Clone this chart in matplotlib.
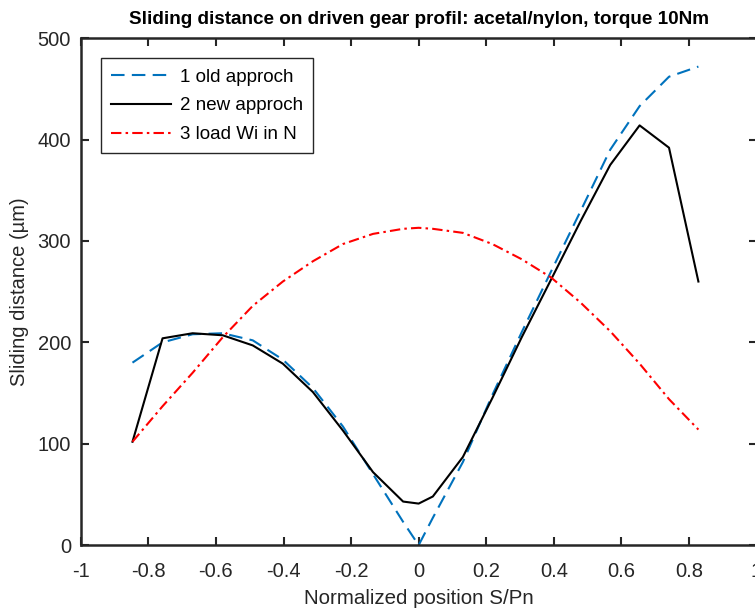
import numpy as np
import matplotlib
matplotlib.use('Agg')
import matplotlib.pyplot as plt

# normalized position S/Pn (same sampling for all three curves)
positions = [-0.847, -0.758, -0.669, -0.580, -0.491, -0.402, -0.313, -0.224, -0.135,
             -0.046, 0.0, 0.042, 0.131, 0.218, 0.305, 0.392, 0.480, 0.567, 0.654,
             0.741, 0.828]

old_approach = [180, 200, 208, 209, 202, 183, 155, 117, 70,
                23, 0, 27, 82, 148, 210, 270, 330, 390, 433,
                462, 472]

new_approach = [102, 204, 209, 207, 197, 179, 151, 113, 72,
                43, 41, 48, 87, 145, 205, 262, 320, 375, 414,
                392, 260]

load_wi = [102, 137, 170, 205, 236, 260, 280, 297, 307,
           312, 313, 312, 308, 297, 282, 264, 239, 211, 179,
           144, 114]

LEGEND_LABELS = ['1 old approch', '2 new approch', '3 load Wi in N']

plt.rcParams['font.family'] = ['Liberation Sans', 'DejaVu Sans']
AXIS_COLOR = '#262626'

fig = plt.figure(figsize=(7.55, 6.16), dpi=100)
ax = fig.add_axes([0.107, 0.115, 0.895, 0.823])

ax.plot(positions, old_approach, color='#0072BD', linewidth=1.5,
        linestyle=(0, (6.5, 3.5)), label=LEGEND_LABELS[0])
ax.plot(positions, new_approach, color='black', linewidth=1.5,
        label=LEGEND_LABELS[1])
ax.plot(positions, load_wi, color='red', linewidth=1.5,
        linestyle=(0, (5, 2, 1.2, 2)), label=LEGEND_LABELS[2])

ax.set_xlim(-1, 1)
ax.set_ylim(0, 500)
ax.set_xticks(np.arange(-1, 1.01, 0.2))
ax.set_xticklabels(['-1', '-0.8', '-0.6', '-0.4', '-0.2', '0', '0.2', '0.4', '0.6', '0.8', '1'])
ax.set_yticks(np.arange(0, 501, 100))

for spine in ax.spines.values():
    spine.set_color(AXIS_COLOR)
    spine.set_linewidth(1.8)
ax.tick_params(direction='in', length=6, width=1.5, colors=AXIS_COLOR,
               labelsize=14.5, top=True, right=True)
ax.tick_params(axis='x', pad=12)
ax.tick_params(axis='y', pad=7)

ax.set_title('Sliding distance on driven gear profil: acetal/nylon, torque 10Nm',
             fontsize=13.6, fontweight='bold', pad=10)
ax.set_xlabel('Normalized position S/Pn', fontsize=14.8, color=AXIS_COLOR, labelpad=6)
ax.set_ylabel('Sliding distance (µm)', fontsize=14.5, color=AXIS_COLOR, labelpad=6)

leg = ax.legend(loc='upper left', bbox_to_anchor=(0.0296, 0.9606), borderaxespad=0,
                fontsize=13.5, handlelength=3.2, handletextpad=0.45, labelspacing=0.62,
                borderpad=0.55, fancybox=False, framealpha=1)
leg.get_frame().set_edgecolor(AXIS_COLOR)
leg.get_frame().set_linewidth(1.0)

fig.savefig('out.png', dpi=100)
